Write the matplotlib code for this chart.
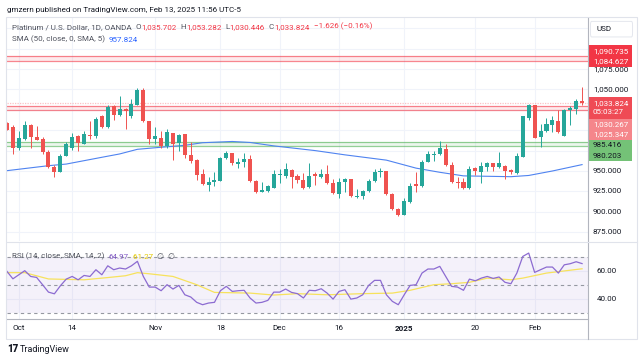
import matplotlib
matplotlib.use("Agg")
import matplotlib.pyplot as plt
from matplotlib.patches import Rectangle, FancyBboxPatch
from matplotlib.lines import Line2D
import numpy as np

plt.rcParams['font.family'] = ['Roboto', 'DejaVu Sans']

W, H = 643, 361

# daily bars XPTUSD (OANDA), Sep 27 2024 .. Feb 13 2025
opens = [1009.0, 1004.1, 978.4, 989.8, 1006.9, 992.3, 989.0, 972.8, 954.5, 948.4,
         968.3, 978.4, 992.7, 983.3, 994.7, 992.7, 1017.1, 1004.1, 1029.7, 1018.3,
         1026.4, 1017.5, 1031.3, 1048.8, 1011.0, 989.8, 990.6, 980.5, 996.3, 984.9,
         995.1, 969.5, 963.4, 946.0, 932.9, 937.0, 937.8, 965.5, 971.6, 959.0,
         961.4, 964.6, 937.8, 924.8, 925.6, 929.7, 945.1, 944.3, 951.2, 943.9,
         939.0, 930.9, 945.9, 943.1, 945.9, 934.9, 922.0, 937.0, 939.8, 917.5,
         919.9, 925.6, 937.8, 948.4, 950.0, 921.5, 903.3, 896.3, 911.4, 933.7,
         932.1, 961.4, 969.5, 970.7, 976.8, 957.3, 937.0, 936.2, 928.9, 953.3,
         949.2, 954.5, 959.4, 954.5, 956.5, 951.2, 948.0, 967.5, 1015.0, 1030.5,
         991.1, 999.2, 1006.9, 1011.0, 993.1, 1024.8, 1026.4, 1035.702]
highs = [1010.2, 1006.1, 998.8, 1011.4, 1008.1, 1004.9, 991.9, 975.6, 957.3, 970.3,
         985.8, 997.2, 994.7, 998.8, 1011.0, 1015.9, 1018.3, 1030.5, 1031.3, 1041.5,
         1027.2, 1037.8, 1052.0, 1052.0, 1011.0, 1004.1, 998.8, 1002.0, 996.7, 995.9,
         995.9, 985.0, 964.2, 952.4, 943.1, 949.2, 967.5, 974.4, 971.6, 965.5,
         971.6, 969.5, 939.0, 937.0, 932.9, 951.2, 952.0, 959.4, 952.0, 945.9,
         947.1, 959.4, 949.2, 952.0, 957.3, 939.8, 941.9, 941.9, 940.2, 928.0,
         926.8, 940.2, 952.4, 953.3, 950.4, 922.8, 904.5, 916.7, 935.0, 949.2,
         963.4, 974.4, 974.4, 986.6, 983.7, 961.4, 943.1, 941.1, 956.5, 955.3,
         960.6, 960.6, 960.2, 972.8, 957.3, 952.4, 971.6, 1017.5, 1032.5, 1031.3,
         1008.1, 1015.4, 1017.1, 1025.2, 1026.4, 1029.3, 1038.6, 1053.282]
lows = [1000.0, 970.3, 975.6, 987.8, 978.4, 987.8, 970.3, 953.3, 943.1, 948.4,
        968.3, 975.6, 974.4, 982.5, 989.8, 990.6, 1002.8, 1002.8, 1013.0, 1017.5,
        1002.0, 1015.0, 1030.5, 1010.2, 983.7, 983.7, 978.4, 978.4, 963.4, 974.4,
        965.5, 959.4, 938.6, 932.9, 925.6, 932.1, 937.8, 964.6, 957.3, 953.3,
        955.3, 937.0, 922.8, 924.0, 924.0, 929.7, 935.8, 941.9, 929.7, 935.0,
        928.0, 928.9, 932.9, 941.1, 933.7, 922.0, 916.7, 924.0, 917.5, 916.7,
        915.4, 924.8, 937.0, 943.1, 920.7, 902.4, 895.1, 895.5, 910.6, 924.8,
        930.9, 960.6, 962.2, 969.5, 956.5, 935.4, 928.9, 928.0, 928.0, 945.1,
        935.0, 950.0, 950.0, 953.3, 940.2, 945.9, 945.9, 967.5, 1012.2, 990.6,
        979.7, 998.0, 998.0, 997.2, 993.1, 1006.1, 1019.5, 1030.446]
closes = [1000.8, 978.4, 990.6, 1006.1, 991.1, 988.6, 973.6, 954.5, 949.2, 968.3,
          983.7, 991.9, 984.6, 995.5, 992.7, 1013.4, 1004.1, 1028.9, 1019.1, 1026.4,
          1024.0, 1031.7, 1048.8, 1011.4, 989.8, 992.7, 980.9, 998.0, 983.7, 994.7,
          969.5, 962.6, 945.1, 933.7, 937.0, 939.4, 966.3, 972.4, 959.4, 961.4,
          964.2, 937.8, 924.8, 926.8, 931.7, 946.0, 946.4, 952.0, 943.1, 939.0,
          928.9, 943.9, 944.3, 946.4, 934.9, 922.8, 937.0, 939.8, 918.7, 919.9,
          925.6, 937.8, 948.4, 950.0, 921.5, 903.3, 896.3, 912.6, 932.1, 932.1,
          961.4, 970.3, 971.1, 978.4, 957.3, 936.2, 935.4, 928.9, 952.4, 950.0,
          956.5, 959.4, 954.5, 959.4, 950.4, 949.2, 968.3, 1017.1, 1031.3, 990.6,
          999.2, 1007.3, 1012.2, 998.0, 1024.8, 1027.2, 1035.45, 1033.824]

# SMA(50) line, sampled at bar indices
sma_idx = [0, 7, 10, 16, 19, 22, 25, 30, 33, 38, 41, 45, 52, 57, 64, 69, 73, 77, 85, 88, 92, 97]
sma_val = [950.4, 956.5, 958.5, 966.8, 970.9, 976.6, 978.5, 981.5, 984.7, 986.2, 985.0,
           980.8, 975.0, 969.8, 963.3, 953.5, 948.4, 944.0, 943.0, 944.5, 950.0, 957.824]

rsi = [59.4, 54.1, 57.0, 59.9, 55.8, 55.1, 49.9, 44.6, 43.4, 49.1,
       53.9, 55.8, 53.4, 56.5, 55.8, 60.6, 57.0, 63.4, 60.6, 61.8,
       61.1, 63.4, 66.6, 55.8, 48.2, 48.2, 45.6, 49.9, 46.8, 49.4,
       42.7, 41.1, 37.3, 35.6, 36.8, 37.3, 45.6, 48.7, 45.1, 45.6,
       45.9, 40.4, 36.8, 37.3, 38.7, 44.6, 44.6, 46.8, 44.4, 43.5,
       40.4, 45.9, 45.6, 47.0, 43.9, 39.6, 45.1, 46.3, 39.6, 40.4,
       42.7, 49.4, 53.0, 53.0, 42.7, 38.0, 35.6, 42.7, 49.4, 49.9,
       58.2, 61.1, 61.1, 63.0, 55.8, 48.7, 48.2, 45.9, 53.9, 52.7,
       54.6, 55.8, 54.4, 55.4, 51.6, 50.6, 58.2, 70.1, 72.5, 58.7,
       60.6, 62.5, 62.5, 58.2, 64.1, 64.9, 66.3, 64.97]
rsi_ma_idx = [0, 3, 7, 13, 17, 20, 22, 24, 28, 32, 35, 41, 45, 49, 54, 60, 65, 68, 72, 75, 78, 81, 85, 87, 91, 97]
rsi_ma_val = [58.5, 58.5, 54.0, 53.4, 55.0, 56.3, 58.5, 57.7, 55.8, 49.9, 44.4, 43.9, 42.5,
              43.5, 42.7, 43.5, 43.9, 45.9, 49.9, 50.6, 51.6, 54.6, 53.4, 54.6, 58.2, 61.27]

tick_idx = [2, 11, 25, 36, 46, 56, 67, 79, 89]
tick_lbl = ["Oct", "14", "Nov", "18", "Dec", "16", "2025", "20", "Feb"]

red_zone_top = [1090.735, 1084.627]
red_zone_mid = [1030.267, 1025.347]
green_zone = [985.416, 980.203]
countdown = "05:03:27"
price_ticks = [875, 900, 925, 950, 975, 1000, 1025, 1050, 1075, 1100, 1125]

UP, DN = '#26a69a', '#ef5350'
RED, GREEN = '#f23645', '#4caf50'
GRID = '#f0f3fa'
TXT = '#131722'
GREY = '#50535e'
FS = 5.8


def px_rect(x0, y0, x1, y1):
    return [x0 / W, 1 - y1 / H, (x1 - x0) / W, (y1 - y0) / H]


fig = plt.figure(figsize=(W / 100, H / 100), dpi=100)
ax = fig.add_axes(px_rect(6.5, 18, 588, 241))
pax = fig.add_axes(px_rect(588, 18, 637, 241))
rax = fig.add_axes(px_rect(6.5, 242, 588, 319))
rpax = fig.add_axes(px_rect(588, 242, 637, 319))

xlim = (-0.08, 98.0)
ylim = (864.1, 1137.7)
rlim = (25.4, 80.4)

for a in (ax, pax, rax, rpax):
    for s in a.spines.values():
        s.set_visible(False)
    a.tick_params(length=0, labelleft=False, labelbottom=False)

# ---- candles ----
o, h, l, c = map(np.array, (opens, highs, lows, closes))
x = np.arange(len(c))
col = np.where(c >= o, UP, DN)
ax.vlines(x, l, h, colors=col, lw=0.7, zorder=4)
ax.bar(x, np.maximum(np.abs(c - o), 0.9), bottom=np.minimum(o, c), width=0.68,
       color=col, lw=0, zorder=5)

# zones
for zone, zc in [(red_zone_top, RED), (red_zone_mid, RED), (green_zone, GREEN)]:
    ax.axhspan(min(zone), max(zone), color=zc, alpha=0.1, lw=0, zorder=2)
    for v in zone:
        ax.axhline(v, color=zc, lw=0.9, alpha=0.6, zorder=2)
ax.axhline(c[-1], color=RED, lw=0.9, ls=(0, (1, 1)), alpha=0.3, zorder=2)

ax.plot(sma_idx, sma_val, color='#4f83f0', lw=0.8, zorder=3)

ax.set_xlim(*xlim)
ax.set_ylim(*ylim)
ax.set_xticks(tick_idx)
ax.set_yticks(price_ticks)
ax.grid(color=GRID, lw=0.8, zorder=0)
ax.set_axisbelow(True)


def chain(axis, x0, y0, parts, fs=FS):
    t = axis.text(x0, y0, parts[0][0], color=parts[0][1], fontsize=fs,
                  transform=axis.transAxes, va='center', ha='left', zorder=10)
    for s, cc in parts[1:]:
        t = axis.annotate(s, xy=(1, 0), xycoords=t, va='bottom', ha='left',
                          color=cc, fontsize=fs, zorder=10)


def fmt(v):
    return f"{v:,.3f}"


chg = c[-1] - c[-2]
chain(ax, 0.0095, 0.96, [
    ("Platinum / U.S. Dollar, 1D, OANDA  ", GREY), ("O", GREY), (fmt(o[-1]), RED),
    ("  H", GREY), (fmt(h[-1]), RED), ("  L", GREY), (fmt(l[-1]), RED),
    ("  C", GREY), (fmt(c[-1]), RED),
    (f"  \u2212{abs(chg):.3f} (\u2212{abs(chg) / c[-2] * 100:.2f}%)", RED)])
chain(ax, 0.0095, 0.906, [("SMA (50, close, 0, SMA, 5)  ", GREY),
                          (f"{sma_val[-1]:.3f}", '#2962ff')])

# ---- price scale: coloured tags, stacked so they don't collide ----
pax.set_xlim(0, 1)
pax.set_ylim(*ylim)
step = 13.0
bw = 0.898
boxes = []   # (lo, hi) price ranges covered by tags


def tag(yc, text, fc, tc, n=1):
    lo, hi = yc - step * (n - 0.5), yc + step / 2
    boxes.append((lo, hi))
    pax.add_patch(Rectangle((0, lo), bw, hi - lo, color=fc, lw=0, zorder=5))
    pax.text(0.1, yc, text, fontsize=FS, color=tc, va='center', zorder=6)


# top pair: lower one stays, upper one pushed up
top_lo = red_zone_top[1]
top_hi = max(red_zone_top[0], top_lo + step)
tag(top_hi, fmt(red_zone_top[0]), RED, 'white')
tag(top_lo, fmt(red_zone_top[1]), RED, 'white')
# last price with countdown, then cascade downward
tag(c[-1], fmt(c[-1]), '#ef4b55', 'white', n=2)
pax.text(0.1, c[-1] - step * 0.9, countdown, fontsize=FS, color='white',
         va='center', zorder=6)
prev = c[-1] - step
for v, fc, tc in [(red_zone_mid[0], '#f5868b', 'white'), (red_zone_mid[1], '#f5868b', 'white'),
                  (green_zone[0], '#74c277', TXT), (green_zone[1], '#74c277', TXT)]:
    prev = min(v, prev - step)
    tag(prev, fmt(v), fc, tc)

# USD box (top of scale)
usd_lo = ylim[1] - (ylim[1] - ylim[0]) * (1 - 0.915)
boxes.append((usd_lo, ylim[1]))
pax.add_patch(FancyBboxPatch((0.05, 0.915), 0.86, 0.07, boxstyle="round,pad=0,rounding_size=0.02",
                             transform=pax.transAxes, fc='white', ec='#e0e3eb', lw=0.6, zorder=7))
pax.text(0.17, 0.951, "USD", fontsize=FS, color=TXT, va='center', transform=pax.transAxes, zorder=8)

# regular scale labels that are not covered by a tag
for p in price_ticks:
    if any(lo <= p <= hi for lo, hi in boxes):
        continue
    pax.text(0.1, p, f"{p:,.3f}", fontsize=FS, color=TXT, va='center', zorder=1)

# ---- RSI pane ----
rax.set_xlim(*xlim)
rax.set_ylim(*rlim)
rax.axhspan(30, 70, color='#7e57c2', alpha=0.08, lw=0, zorder=1)
for lev in (30, 50, 70):
    rax.axhline(lev, color='#9598a1', lw=0.8, ls=(0, (3, 3)), zorder=2)
rax.plot(x, rsi, color='#8c6bd1', lw=0.9, zorder=4)
rax.plot(rsi_ma_idx, rsi_ma_val, color='#f7e25c', lw=0.9, zorder=3)
rax.set_xticks(tick_idx)
rax.set_yticks([40, 60])
rax.grid(color=GRID, lw=0.8, zorder=0)
rax.set_axisbelow(True)
rax.tick_params(labelbottom=True, pad=4.5, labelsize=FS, labelcolor=TXT)
rax.set_xticklabels(tick_lbl)
for tl in rax.get_xticklabels():
    if tl.get_text() == "2025":
        tl.set_fontweight('bold')

chain(rax, 0.0095, 0.82, [("RSI (14, close, SMA, 14, 2)  ", GREY),
                          (f"{rsi[-1]:.2f}", '#7e57c2'), (f"  {rsi_ma_val[-1]:.2f}", '#e3c800'),
                          ("  \u2205  \u2205", GREY)])

rpax.set_xlim(0, 1)
rpax.set_ylim(*rlim)
for lev in (60, 40):
    rpax.text(0.18, lev, f"{lev:.2f}", fontsize=FS, color=TXT, va='center')


# ---- frame, separators, header/footer ----
def fig_line(x0, y0, x1, y1, color, lw=0.8):
    fig.add_artist(Line2D([x0 / W, x1 / W], [1 - y0 / H, 1 - y1 / H], color=color, lw=lw,
                          transform=fig.transFigure))


fig.add_artist(Rectangle((6 / W, 1 - 339 / H), 631 / W, 322 / H, transform=fig.transFigure,
                         fill=False, ec='#e0e3eb', lw=0.8))
fig_line(588, 18, 588, 339, '#b2b5be')
fig_line(6.5, 319, 588, 319, '#b2b5be')
fig_line(6.5, 241.5, 637, 241.5, '#e0e3eb')

fig.text(7 / W, 1 - 10 / H, "gmzern published on TradingView.com, Feb 13, 2025 11:56 UTC-5",
         fontsize=5.8, color=TXT, va='center')
fig.text(7 / W, 1 - 349.5 / H, "17", fontsize=7, fontweight='black', color=TXT, va='center')
fig.text(20 / W, 1 - 349.5 / H, "TradingView", fontsize=6.5, color=TXT, va='center')

fig.savefig("out.png", dpi=100)
